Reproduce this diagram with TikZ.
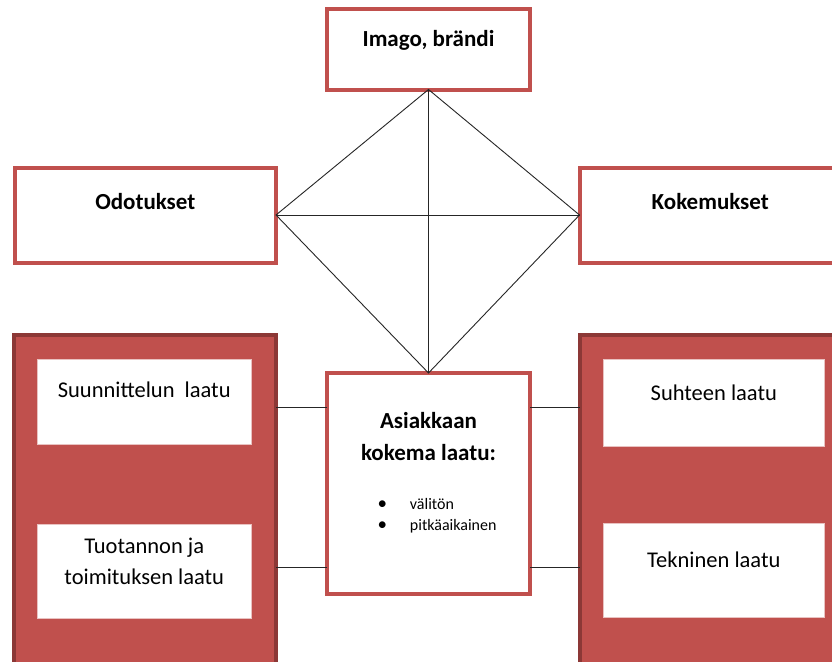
\documentclass[tikz,border=0pt]{standalone}
\usepackage{fontspec}
\setmainfont{Carlito}
\usepackage{tikz}
\usetikzlibrary{positioning}

\definecolor{boxred}{RGB}{192,80,77}
\definecolor{paneledge}{RGB}{140,56,54}

\newcommand{\bul}[1]{\normalfont\fontsize{16}{21.7}\selectfont\makebox[102pt][l]{{\fontsize{19}{19}\selectfont\textbullet}\hspace{23pt}#1}}

\begin{document}
\begin{tikzpicture}[x=1pt, y=-1pt,
topic/.style={draw=boxred, line width=4pt, fill=white, outer sep=0pt, inner sep=0pt, align=center, text height=17pt, font=\bfseries\fontsize{23}{31.7}\selectfont},
panel/.style={draw=paneledge, line width=4pt, fill=boxred, outer sep=0pt, minimum width=262pt, minimum height=385.6pt},
item/.style={draw=boxred!35, line width=0.6pt, fill=white, outer sep=0pt, inner sep=0pt, align=center, text height=16pt, font=\fontsize{22.5}{31}\selectfont},
link/.style={line width=0.9pt, draw=black!85}
]
\useasboundingbox (0,0) rectangle (832,661);
\clip (0,0) rectangle (832,661);
\fill[white] (0,0) rectangle (832,661);

\node[topic, minimum width=203pt, minimum height=221pt, text height=110pt, text depth=15.6pt] (core) at (428.5,483.5)
  {Asiakkaan\\kokema laatu:\\[17.3pt]\bul{välitön}\\[-10pt]\bul{pitkäaikainen}};
\node[topic, minimum width=203pt, minimum height=80pt, text depth=22.6pt, above=283.5pt of core] (imago) {Imago, brändi};
\node[topic, minimum width=261.5pt, minimum height=95pt, text depth=28.4pt] (odot) at (145.25,215) {Odotukset};
\node[topic, minimum width=261.5pt, minimum height=95pt, text depth=28.4pt, right=303.5pt of odot] (koke) {Kokemukset};

\node[panel] (lpanel) at (145.3,527.5) {};
\node[panel, right=303.5pt of lpanel] (rpanel) {};

\node[item, minimum width=214.5pt, minimum height=85pt, text depth=25pt] (design) at (144.25,401.8) {Suunnittelun~ laatu};
\node[item, minimum width=214.5pt, minimum height=94.3pt, text height=40pt, text depth=13.8pt, below=79.7pt of design] (prod) {Tuotannon ja\\toimituksen laatu};
\node[item, minimum width=221pt, minimum height=86.7pt, text depth=21.4pt] (rel) at (713.8,402.7) {Suhteen laatu};
\node[item, minimum width=221pt, minimum height=94.3pt, text depth=21.8pt, below=77.3pt of rel] (tech) {Tekninen laatu};

\coordinate (upper) at (0,407.3);
\coordinate (lower) at (0,567.3);

\draw[link] (imago.south) -- (odot.east) -- (core.north) -- (koke.west) -- cycle;
\draw[link] (imago.south) -- (core.north);
\draw[link] (odot.east) -- (koke.west);
\draw[link] (lpanel.east |- upper) -- (core.west |- upper);
\draw[link] (lpanel.east |- lower) -- (core.west |- lower);
\draw[link] (core.east |- upper) -- (rpanel.west |- upper);
\draw[link] (core.east |- lower) -- (rpanel.west |- lower);
\end{tikzpicture}
\end{document}
